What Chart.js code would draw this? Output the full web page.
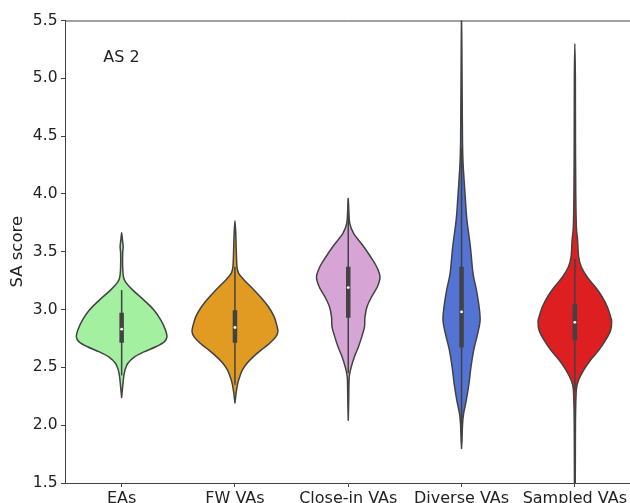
<!DOCTYPE html>
<html><head><meta charset="utf-8">
<script src="https://cdn.jsdelivr.net/npm/chart.js@4.4.0/dist/chart.umd.min.js"></script>
<style>
html,body{margin:0;padding:0;overflow:hidden;background:#fff;width:630px;height:503px}
#wrap{width:640px;height:503px}
</style>
</head><body><div id="wrap"><canvas id="c" width="640" height="503"></canvas></div>
<script>
const categories = ['EAs', 'FW VAs', 'Close-in VAs', 'Diverse VAs', 'Sampled VAs'];
const yTicks = [1.5, 2.0, 2.5, 3.0, 3.5, 4.0, 4.5, 5.0, 5.5];

// KDE profiles: [score, relative density]
const easProfile = [[2.24,0],[2.331,1],[2.418,2],[2.476,3.3],[2.534,6],[2.591,12.7],[2.634,22],[2.678,33.7],[2.721,42],[2.764,44.7],[2.822,43.3],[2.909,38.7],[2.995,32],[3.082,22],[3.168,11],[3.240,3.7],[3.284,1.8],[3.37,1],[3.486,1],[3.543,1.5],[3.601,0.8],[3.665,0]];
const fwProfile = [[2.193,0],[2.288,1.3],[2.36,2.7],[2.418,4.7],[2.476,7.3],[2.534,11.7],[2.591,18],[2.649,25.7],[2.707,34],[2.764,40.3],[2.807,42.3],[2.85,41.7],[2.937,38.7],[3.024,33],[3.11,25],[3.197,15.7],[3.255,9],[3.313,3.7],[3.37,2],[3.515,1.3],[3.659,0.8],[3.768,0]];
const closeProfile = [[2.043,0],[2.2,0.4],[2.39,0.8],[2.447,1.5],[2.504,3],[2.59,6],[2.677,10],[2.764,13.3],[2.85,16],[2.937,16.5],[3.024,18.5],[3.11,23],[3.197,28.7],[3.284,31.3],[3.37,28],[3.457,22],[3.543,15.3],[3.659,5.3],[3.746,1.5],[3.85,0.6],[3.962,0]];
const diverseProfile = [[1.798,0],[1.9,0.5],[2.01,1],[2.1,2],[2.216,4.7],[2.36,7.3],[2.504,9.3],[2.65,12],[2.794,16],[2.91,18.3],[3.024,17.3],[3.168,14.7],[3.313,11.3],[3.543,8.7],[3.774,5.3],[3.95,3.8],[4.12,2.5],[4.265,1.5],[4.41,1],[4.6,0.8],[5.0,0.5],[5.6,0]];
const sampledProfile = [[1.3,0],[1.5,0.4],[1.8,0.5],[2.1,0.7],[2.31,1.5],[2.39,3.7],[2.476,8.7],[2.562,15.3],[2.649,23.7],[2.735,30.3],[2.822,35.3],[2.894,36.3],[2.937,35.3],[3.024,32],[3.11,27],[3.197,20],[3.284,12],[3.37,6.3],[3.457,3.7],[3.6,2.7],[3.716,1.5],[4.0,0.9],[4.5,0.6],[5.0,0.5],[5.3,0]];

// inner box statistics
const q1 = [2.712, 2.712, 2.93, 2.672, 2.735];
const medians = [2.83, 2.845, 3.19, 2.98, 2.89];
const q3 = [2.972, 2.995, 3.37, 3.37, 3.047];
const whiskerLow = [2.43, 2.35, 2.45, 1.85, 2.30];
const whiskerHigh = [3.17, 3.37, 3.96, 4.40, 3.44];

const fillColors = ['#a2f0a0', '#e19b22', '#d6a5d6', '#5474d5', '#dd1f22'];
const profiles = [easProfile, fwProfile, closeProfile, diverseProfile, sampledProfile];
const annotationText = 'AS 2';

const FONT = 'DejaVu Sans';
const LINE = '#424242';

function smoothPath(ctx, pts) {
  ctx.moveTo(pts[0][0], pts[0][1]);
  for (let i = 0; i < pts.length - 1; i++) {
    const p0 = pts[i - 1] || pts[i], p1 = pts[i], p2 = pts[i + 1], p3 = pts[i + 2] || pts[i + 1];
    const c1x = p1[0] + (p2[0] - p0[0]) / 6, c1y = p1[1] + (p2[1] - p0[1]) / 6;
    const c2x = p2[0] - (p3[0] - p1[0]) / 6, c2y = p2[1] - (p3[1] - p1[1]) / 6;
    ctx.bezierCurveTo(c1x, c1y, c2x, c2y, p2[0], p2[1]);
  }
}

const violinPlugin = {
  id: 'violins',
  afterDatasetsDraw(chart) {
    const ctx = chart.ctx, xs = chart.scales.x, ys = chart.scales.y, area = chart.chartArea;
    const catW = xs.getPixelForValue(1) - xs.getPixelForValue(0);
    let maxD = 0;
    profiles.forEach(p => p.forEach(r => { if (r[1] > maxD) maxD = r[1]; }));
    const k = 0.4 * catW / maxD;
    ctx.save();
    ctx.beginPath();
    ctx.rect(area.left, area.top, area.right - area.left, area.bottom - area.top);
    ctx.clip();
    profiles.forEach((prof, i) => {
      const cx = xs.getPixelForValue(i);
      const right = prof.map(r => [cx + r[1] * k, ys.getPixelForValue(r[0])]);
      const left = prof.slice(0, -1).reverse().map(r => [cx - r[1] * k, ys.getPixelForValue(r[0])]);
      const pts = right.concat(left);
      ctx.beginPath();
      smoothPath(ctx, pts);
      ctx.closePath();
      ctx.fillStyle = fillColors[i];
      ctx.fill();
      ctx.lineWidth = 1.5;
      ctx.strokeStyle = LINE;
      ctx.lineJoin = 'round';
      ctx.stroke();
      // whisker
      ctx.beginPath();
      ctx.moveTo(cx, ys.getPixelForValue(whiskerLow[i]));
      ctx.lineTo(cx, ys.getPixelForValue(whiskerHigh[i]));
      ctx.lineWidth = 1.5;
      ctx.stroke();
      // box
      ctx.beginPath();
      ctx.moveTo(cx, ys.getPixelForValue(q1[i]));
      ctx.lineTo(cx, ys.getPixelForValue(q3[i]));
      ctx.lineWidth = 4.5;
      ctx.lineCap = 'butt';
      ctx.stroke();
      // median
      ctx.beginPath();
      ctx.arc(cx, ys.getPixelForValue(medians[i]), 1.4, 0, Math.PI * 2);
      ctx.fillStyle = '#ffffff';
      ctx.fill();
    });
    ctx.restore();
    // top spine and right spine
    ctx.save();
    ctx.strokeStyle = LINE;
    ctx.lineWidth = 1;
    ctx.beginPath();
    ctx.moveTo(area.left, area.top + 0.5);
    ctx.lineTo(area.right, area.top + 0.5);
    ctx.lineTo(area.right, area.bottom);
    ctx.stroke();
    // annotation
    ctx.fillStyle = '#222';
    ctx.font = '16px "' + FONT + '"';
    ctx.textAlign = 'left';
    ctx.textBaseline = 'alphabetic';
    ctx.fillText(annotationText, area.left + 0.0676 * (area.right - area.left), area.top + 0.0893 * (area.bottom - area.top));
    ctx.restore();
  }
};

new Chart(document.getElementById('c'), {
  type: 'bar',
  data: { labels: categories, datasets: [] },
  options: {
    responsive: false,
    animation: false,
    devicePixelRatio: 1,
    layout: { padding: { top: 20.5, right: 8.5, left: 0, bottom: 0 } },
    plugins: { legend: { display: false }, tooltip: { enabled: false } },
    scales: {
      x: {
        type: 'category',
        offset: true,
        grid: { display: true, drawOnChartArea: false, drawTicks: true, tickLength: 4, offset: false, color: LINE },
        border: { display: true, color: LINE, width: 1 },
        ticks: { color: '#222', font: { family: FONT, size: 16 }, padding: 2, maxRotation: 0, autoSkip: false },
        afterFit(s) { s.height = 20; s.paddingLeft = 0; s.paddingRight = 0; }
      },
      y: {
        type: 'linear',
        min: 1.5, max: 5.5,
        afterBuildTicks(s) { s.ticks = yTicks.map(v => ({ value: v })); },
        grid: { display: true, drawOnChartArea: false, drawTicks: true, tickLength: 4, color: LINE },
        border: { display: true, color: LINE, width: 1 },
        ticks: { color: '#222', font: { family: FONT, size: 15.5 }, padding: 3.5, callback: v => Number(v).toFixed(1) },
        title: { display: true, text: 'SA score', color: '#222', font: { family: FONT, size: 16.5 }, padding: { top: 8, bottom: 0 } },
        afterFit(s) { s.width = 65; s.paddingTop = 0; s.paddingBottom = 0; }
      }
    }
  },
  plugins: [violinPlugin]
});
</script>
</body></html>
